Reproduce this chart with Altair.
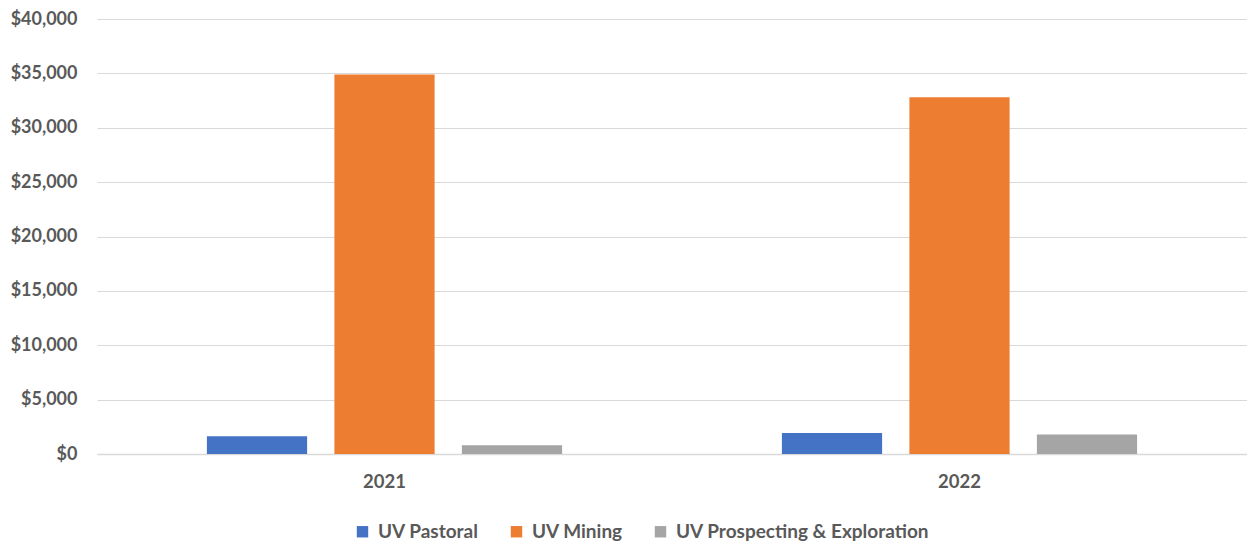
import altair as alt
import pandas as pd

years = ["2021", "2022"]
series = ["UV Pastoral", "UV Mining", "UV Prospecting & Exploration"]
pastoral = [1640, 1920]
mining = [34900, 32800]
prospecting = [800, 1800]
colors = ["#4472C4", "#ED7D31", "#A5A5A5"]

rows = []
for i, y in enumerate(years):
    rows.append({"year": y, "series": series[0], "value": pastoral[i]})
    rows.append({"year": y, "series": series[1], "value": mining[i]})
    rows.append({"year": y, "series": series[2], "value": prospecting[i]})
df = pd.DataFrame(rows)

FONT = "Lato"
TXT = "#595959"

chart = alt.Chart(df).mark_bar().encode(
    x=alt.X("year:N", sort=years, title=None,
            scale=alt.Scale(paddingInner=0, paddingOuter=0),
            axis=alt.Axis(labelAngle=0, ticks=False, domain=True, domainColor="#D9D9D9",
                          domainWidth=1.5, labelFont=FONT, labelFontSize=18.5,
                          labelFontWeight="bold", labelColor=TXT, labelPadding=18)),
    xOffset=alt.XOffset("series:N", sort=series,
                        scale=alt.Scale(paddingInner=0.214, paddingOuter=0.862)),
    y=alt.Y("value:Q", title=None,
            scale=alt.Scale(domain=[0, 40000], nice=False),
            axis=alt.Axis(values=list(range(0, 40001, 5000)), format="$,.0f",
                          ticks=False, domain=False, gridColor="#D9D9D9", gridWidth=1.2,
                          labelFont=FONT, labelFontSize=18, labelFontWeight="bold",
                          labelColor=TXT, labelPadding=20)),
    color=alt.Color("series:N", sort=series,
                    scale=alt.Scale(domain=series, range=colors),
                    legend=alt.Legend(title=None, orient="none", direction="horizontal",
                                      legendX=256, legendY=503,
                                      symbolType="square", symbolSize=130,
                                      symbolStrokeWidth=0, labelFont=FONT,
                                      labelFontSize=19, labelFontWeight="bold",
                                      labelColor=TXT, columnPadding=28, labelOffset=6,
                                      labelLimit=400)),
).properties(
    width=1150, height=435,
    autosize=alt.AutoSizeParams(type="none"),
    padding={"left": 89, "top": 11, "right": 0, "bottom": 90},
).configure_view(stroke=None)

chart.save("out.html", embed_options={"renderer": "svg", "actions": False})
